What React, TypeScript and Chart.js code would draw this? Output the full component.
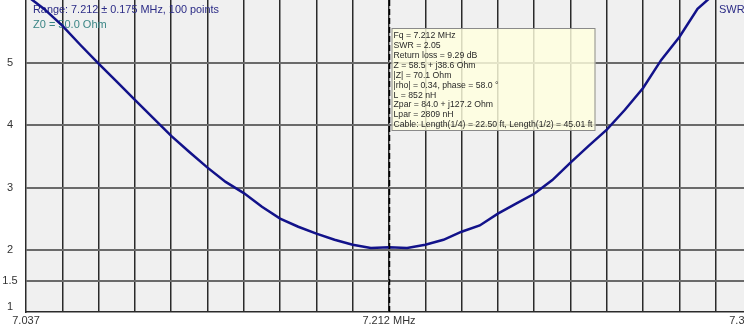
import { useEffect, useRef } from "react";
import { Chart, registerables } from "chart.js";

Chart.register(...registerables);

// ---- data ----
const freqsMHz = [
  7.037, 7.04575, 7.0545, 7.06325, 7.072, 7.08075, 7.0895, 7.09825, 7.107, 7.11575,
  7.1245, 7.13325, 7.142, 7.15075, 7.1595, 7.16825, 7.177, 7.18575, 7.1945, 7.20325,
  7.212, 7.22075, 7.2295, 7.23825, 7.247, 7.25575, 7.2645, 7.27325, 7.282, 7.29075,
  7.2995, 7.30825, 7.317, 7.32575, 7.3345, 7.34325, 7.352, 7.36075, 7.3695, 7.37825,
  7.387,
];
const swrValues = [
  6.09, 5.87, 5.6, 5.29, 4.99, 4.7, 4.41, 4.12, 3.83, 3.57,
  3.32, 3.09, 2.91, 2.69, 2.5, 2.37, 2.26, 2.16, 2.08, 2.03,
  2.04, 2.03, 2.08, 2.16, 2.29, 2.39, 2.58, 2.74, 2.9, 3.12,
  3.4, 3.67, 3.93, 4.25, 4.6, 5.05, 5.42, 5.87, 6.13, 6.41,
  6.65,
];
const xMin = 7.037;
const xMax = 7.387;
const xGridStep = 0.0175;
const xLabelValues = [7.037, 7.212, 7.387];
const xLabelTexts = ["7.037", "7.212 MHz", "7.387"];
const yMin = 1;
const yMax = 6.013;
const yTickValues = [1, 1.5, 2, 3, 4, 5];
const yTickLabels = ["1", "1.5", "2", "3", "4", "5"];
const markerFreq = 7.212;
const headerRange = "Range: 7.212 \u00b1 0.175 MHz, 100 points";
const headerZ0 = "Z0 = 50.0 Ohm";
const seriesName = "SWR";
const infoLines = [
  "Fq = 7.212 MHz",
  "SWR = 2.05",
  "Return loss = 9.29 dB",
  "Z = 58.5 + j38.6 Ohm",
  "|Z| = 70.1 Ohm",
  "|rho| = 0.34, phase = 58.0 \u00b0",
  "L = 852 nH",
  "Zpar = 84.0 + j127.2 Ohm",
  "Lpar = 2809 nH",
  "Cable: Length(1/4) = 22.50 ft, Length(1/2) = 45.01 ft",
];

const VIEW_W = 744;
const VIEW_H = 327;
const CANVAS_W = 790;
const FONT = '"Liberation Sans", Arial, sans-serif';

const decorPlugin = {
  id: "decor",
  beforeDraw(chart: any) {
    const { ctx, chartArea: a } = chart;
    ctx.save();
    ctx.fillStyle = "#f0f0f0";
    ctx.fillRect(a.left, a.top, a.right - a.left, a.bottom - a.top);
    ctx.restore();
  },
  beforeDatasetsDraw(chart: any) {
    const { ctx, chartArea: a } = chart;
    ctx.save();
    ctx.font = "11px " + FONT;
    ctx.textBaseline = "middle";
    ctx.textAlign = "left";
    ctx.fillStyle = "#2b2b86";
    ctx.fillText(headerRange, a.left + 7, 10, 186);
    ctx.fillStyle = "#3a8585";
    ctx.fillText(headerZ0, a.left + 7, 25);
    ctx.fillStyle = "#2b2b86";
    ctx.fillText(seriesName, 719, 10);
    ctx.restore();
  },
  afterDraw(chart: any) {
    const { ctx, chartArea: a, scales } = chart;
    const xs = scales.x;
    const ys = scales.y;
    ctx.save();
    // crosshair
    const cx = Math.round(xs.getPixelForValue(markerFreq)) + 0.5;
    ctx.strokeStyle = "#000000";
    ctx.lineWidth = 1.5;
    ctx.setLineDash([6, 3]);
    ctx.beginPath();
    ctx.moveTo(cx, a.top);
    ctx.lineTo(cx, a.bottom);
    ctx.stroke();
    ctx.setLineDash([]);

    // info box
    const bx = cx + 2;
    const by = a.top + 28;
    const bw = 204;
    const bh = 103;
    ctx.fillStyle = "rgba(255,255,222,0.82)";
    ctx.fillRect(bx, by, bw, bh);
    ctx.strokeStyle = "#8a8a8a";
    ctx.lineWidth = 1;
    ctx.strokeRect(bx + 0.5, by + 0.5, bw - 1, bh - 1);
    ctx.font = "9px " + FONT;
    ctx.fillStyle = "#2a2a2a";
    ctx.textBaseline = "middle";
    ctx.textAlign = "left";
    let widest = 0;
    for (const l of infoLines) widest = Math.max(widest, ctx.measureText(l).width);
    const sx = Math.min(1, 199 / widest);
    infoLines.forEach((l, i) => {
      ctx.save();
      ctx.translate(bx + 2, by + 7.7 + i * 9.9);
      ctx.scale(sx, 1);
      ctx.fillText(l, 0, 0);
      ctx.restore();
    });

    // axis labels
    ctx.font = "11px " + FONT;
    ctx.fillStyle = "#333333";
    ctx.textAlign = "center";
    ctx.textBaseline = "middle";
    xLabelValues.forEach((v, i) => {
      const px = Math.min(xs.getPixelForValue(v), VIEW_W - 1);
      ctx.fillText(xLabelTexts[i], px, a.bottom + 9);
    });
    yTickValues.forEach((v, i) => {
      const py = Math.min(ys.getPixelForValue(v), a.bottom - 5);
      ctx.fillText(yTickLabels[i], 10, py);
    });
    ctx.restore();
  },
};

export default function App() {
  const ref = useRef<HTMLCanvasElement | null>(null);

  useEffect(() => {
    if (!ref.current) return;
    const chart = new Chart(ref.current, {
      type: "line",
      data: {
        datasets: [
          {
            label: seriesName,
            data: freqsMHz.map((f, i) => ({ x: f, y: swrValues[i] })),
            borderColor: "#12128a",
            borderWidth: 2.5,
            pointRadius: 0,
            tension: 0,
            fill: false,
          },
        ],
      },
      options: {
        animation: false,
        responsive: false,
        devicePixelRatio: 1,
        events: [],
        layout: { padding: { left: 0, right: CANVAS_W - 752, top: 0, bottom: 0 } },
        plugins: { legend: { display: false }, tooltip: { enabled: false } },
        scales: {
          x: {
            type: "linear",
            min: xMin,
            max: xMax,
            afterBuildTicks: (s: any) => {
              const n = Math.round((xMax - xMin) / xGridStep);
              const t = [];
              for (let i = 1; i <= n; i++) t.push({ value: xMin + i * xGridStep });
              s.ticks = t;
            },
            afterFit: (s: any) => {
              s.height = VIEW_H - 312;
            },
            ticks: { display: false },
            grid: { color: "#2a2a2a", lineWidth: 1.5, drawTicks: false },
            border: { color: "#2a2a2a", width: 1.5 },
          },
          y: {
            type: "linear",
            min: yMin,
            max: yMax,
            afterBuildTicks: (s: any) => {
              s.ticks = yTickValues.filter((v) => v > yMin).map((v) => ({ value: v }));
            },
            afterFit: (s: any) => {
              s.width = 26;
            },
            ticks: { display: false },
            grid: { color: "#6a6a6a", lineWidth: 2, drawTicks: false },
            border: { color: "#2a2a2a", width: 1.5 },
          },
        },
      },
      plugins: [decorPlugin],
    });
    return () => chart.destroy();
  }, []);

  return (
    <div
      style={{
        position: "absolute",
        left: 0,
        top: 0,
        width: VIEW_W,
        height: VIEW_H,
        overflow: "hidden",
        background: "#ffffff",
      }}
    >
      <canvas
        ref={ref}
        width={CANVAS_W}
        height={VIEW_H}
        style={{ display: "block", width: CANVAS_W, height: VIEW_H }}
      />
    </div>
  );
}
